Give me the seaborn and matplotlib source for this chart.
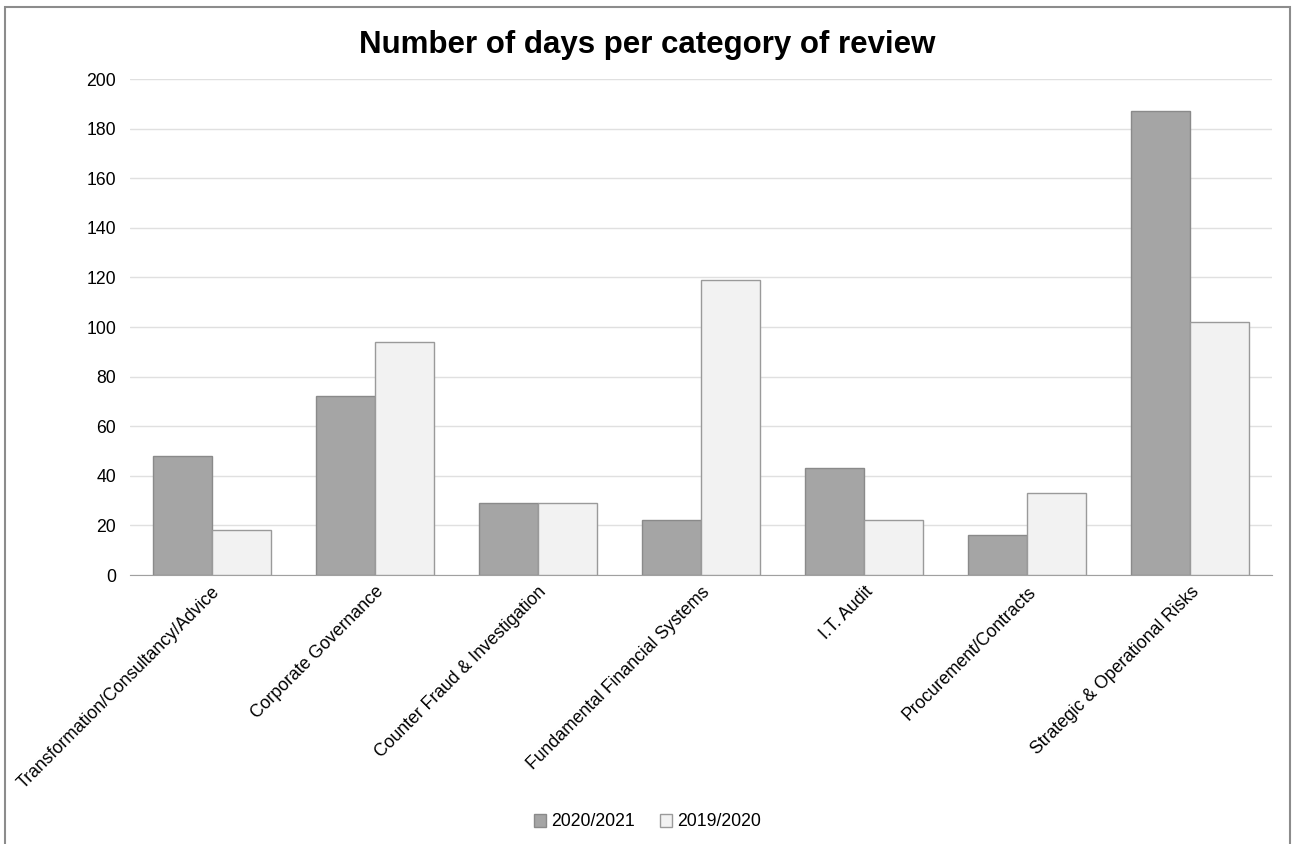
import seaborn as sns
import pandas as pd
from matplotlib import pyplot as plt
from matplotlib.patches import Rectangle, Patch

#--------------------------Data-----------------------------------------------
categories = ['Transformation/Consultancy/Advice', 'Corporate Governance',
              'Counter Fraud & Investigation', 'Fundamental Financial Systems',
              'I.T. Audit', 'Procurement/Contracts', 'Strategic & Operational Risks']
days_2020_2021 = [48, 72, 29, 22, 43, 16, 187]
days_2019_2020 = [18, 94, 29, 119, 22, 33, 102]
periods = ['2020/2021', '2019/2020']

df = pd.DataFrame({
    'Category': categories * 2,
    'Period': [periods[0]] * len(categories) + [periods[1]] * len(categories),
    'Days': days_2020_2021 + days_2019_2020,
})

#--------------------------Style----------------------------------------------
sns.set_style('white')
plt.rcParams['font.family'] = ['Liberation Sans', 'DejaVu Sans']
plt.rcParams['text.color'] = 'black'

fills = {'2020/2021': '#a5a5a5', '2019/2020': '#f2f2f2'}
edges = {'2020/2021': '#8a8a8a', '2019/2020': '#9a9a9a'}

fig = plt.figure(figsize=(12.95, 8.44), dpi=100)
ax = fig.add_axes([130 / 1295, 1 - 575 / 844, 1142 / 1295, 496 / 844])

sns.barplot(data=df, x='Category', y='Days', hue='Period', hue_order=periods,
            palette=fills, width=0.724, gap=0, linewidth=1, ax=ax,
            legend=False, zorder=3)

# per-series edge colours
for container, p in zip(ax.containers, periods):
    for bar in container:
        bar.set_edgecolor(edges[p])

ax.set_ylim(0, 200)
ax.set_yticks(range(0, 201, 20))
ax.yaxis.grid(True, color='#e0e0e0', linewidth=1, zorder=0)
ax.set_axisbelow(True)
for s in ['top', 'right', 'left']:
    ax.spines[s].set_visible(False)
ax.spines['bottom'].set_color('#a0a0a0')
ax.set_xlabel('')
ax.set_ylabel('')
ax.tick_params(axis='both', length=0, labelsize=12.7, colors='#000000', pad=10)
ax.tick_params(axis='x', pad=6)
plt.setp(ax.get_xticklabels(), rotation=45, ha='right', rotation_mode='anchor')

fig.text(0.5, 1 - 45 / 844, 'Number of days per category of review',
         ha='center', va='center', fontsize=22.5, fontweight='bold', color='black')

handles = [Patch(facecolor=fills[p], edgecolor=edges[p], label=p) for p in periods]
fig.legend(handles=handles, loc='center', bbox_to_anchor=(0.5, 1 - 822 / 844),
           ncol=2, frameon=False, fontsize=12.7, handlelength=0.7,
           handleheight=0.7, handletextpad=0.3, columnspacing=1.4)

# chart area border
fig.add_artist(Rectangle((5 / 1295, -0.05), 1285 / 1295, 1.05 - 7 / 844,
                         transform=fig.transFigure, fill=False,
                         edgecolor='#8c8c8c', linewidth=1.5))

fig.savefig('out.png', dpi=100)
